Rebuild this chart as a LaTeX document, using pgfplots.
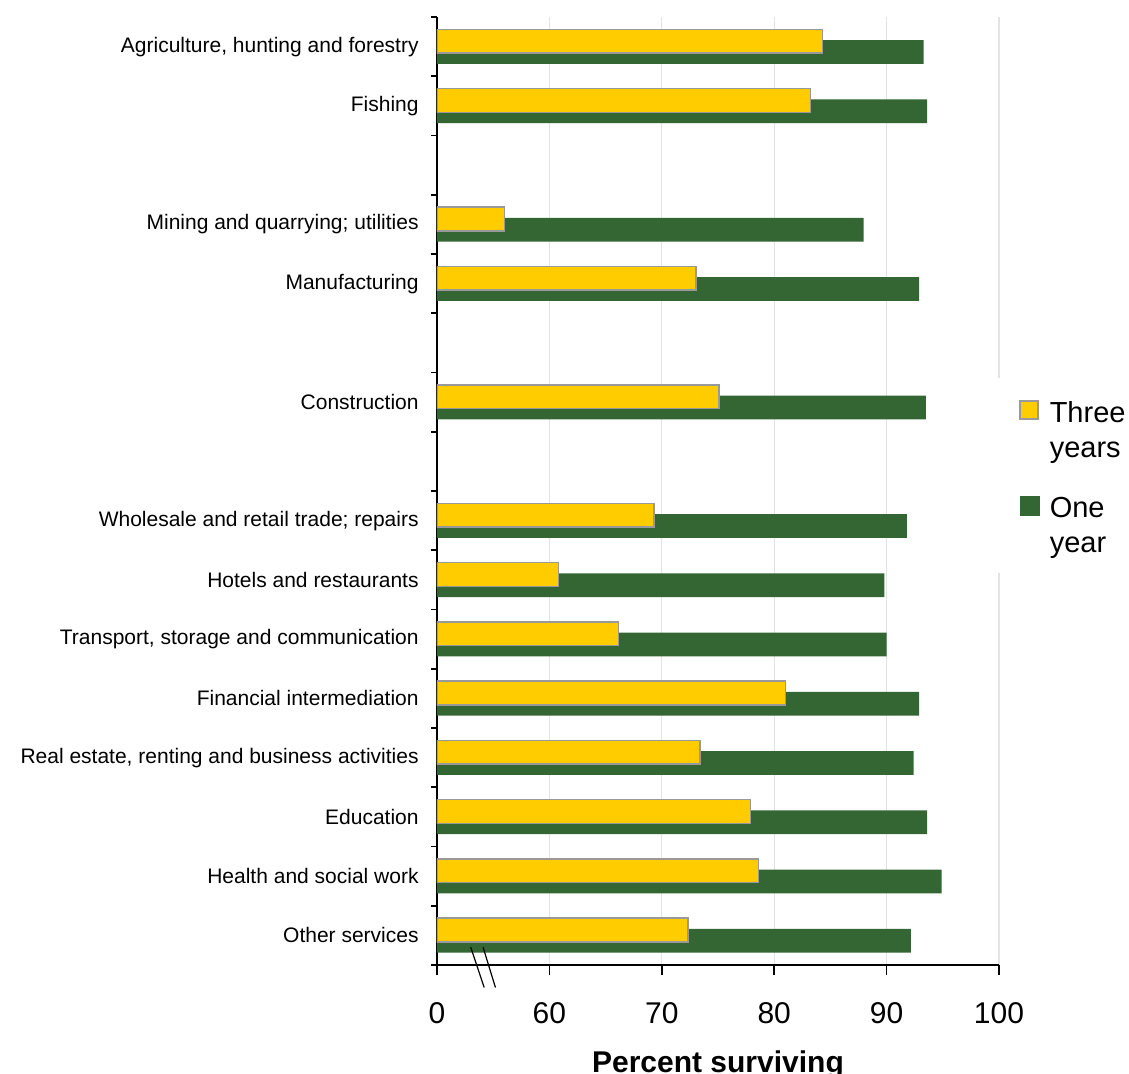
\documentclass[border=0pt]{standalone}
\usepackage{pgfplots}
\pgfplotsset{compat=1.18}
\usepackage{fontspec}
\setmainfont{Liberation Sans}

\definecolor{barYellow}{HTML}{FFCC00}
\definecolor{barGreen}{HTML}{336633}
\definecolor{barEdge}{HTML}{999999}
\definecolor{gridGray}{HTML}{E3E3E3}

\begin{document}
\begin{tikzpicture}
\begin{axis}[
  at={(0,0)}, anchor=south west,
  scale only axis, width=281pt, height=474pt,
  xbar, bar width=0.4,
  xmin=50, xmax=100, ymin=-0.5, ymax=15.5, y dir=reverse,
  clip mode=individual,
  axis x line*=bottom, axis y line*=left,
  axis line style={line width=0.8pt, -},
  tick align=outside,
  major tick length=5pt,
  xtick={50,60,70,80,90,100},
  xticklabels={0,60,70,80,90,100},
  xtick style={draw=black, line width=0.8pt},
  xticklabel style={font=\fontsize{15}{18}\selectfont, anchor=base, inner sep=0pt, yshift=-24pt},
  xmajorgrids, major grid style={gridGray, line width=0.6pt},
  ytick={0,1,3,4,6,8,9,10,11,12,13,14,15},
  yticklabels={
    {Agriculture, hunting and forestry},
    {Fishing},
    {Mining and quarrying; utilities},
    {Manufacturing},
    {Construction},
    {Wholesale and retail trade; repairs},
    {Hotels and restaurants},
    {Transport, storage and communication},
    {Financial intermediation},
    {Real estate, renting and business activities},
    {Education},
    {Health and social work},
    {Other services}},
  ytick style={draw=none},
  yticklabel style={font=\fontsize{10.5}{12}\selectfont, anchor=east, inner sep=0pt, xshift=-4pt},
  extra y ticks={-0.5,0.5,...,15.5},
  extra y tick labels={},
  extra y tick style={major tick length=3pt, ytick style={draw=black, line width=0.8pt}},
  xlabel={Percent surviving},
  xlabel style={at={(0.5,0)}, anchor=base, yshift=-53.5pt,
                font=\bfseries\fontsize{15}{18}\selectfont},
  reverse legend,
  legend style={at={(1.0356,0.5986)}, anchor=north west, draw=none, fill=none,
                inner sep=0pt, outer sep=0pt, row sep=34pt, column sep=5pt,
                font=\fontsize{14.5}{17.5}\selectfont,
                nodes={inner sep=0pt, anchor=base west}},
]
% one-year survival (drawn first, sits below)
\addplot[fill=barGreen, draw=none, bar shift=0.09,
  legend image code/.code={\fill[barGreen] (0pt,1pt) rectangle (10pt,11pt);}]
  coordinates {(93.3,0) (93.6,1) (87.95,3) (92.9,4) (93.5,6) (91.8,8) (89.8,9)
               (90.0,10) (92.9,11) (92.4,12) (93.6,13) (94.9,14) (92.15,15)};
\addlegendentry{\begin{tabular}[t]{@{}l@{}}One\\year\end{tabular}}
% three-year survival (drawn on top)
\addplot[fill=barYellow, draw=barEdge, line width=0.75pt, bar shift=-0.09,
  legend image code/.code={\draw[fill=barYellow, draw=barEdge, line width=0.75pt] (0pt,1.5pt) rectangle (9pt,10.5pt);}]
  coordinates {(84.3,0) (83.25,1) (56.0,3) (73.05,4) (75.1,6) (69.3,8) (60.8,9)
               (66.15,10) (81.0,11) (73.4,12) (77.9,13) (78.6,14) (72.35,15)};
\addlegendentry{\begin{tabular}[t]{@{}l@{}}Three\\years\end{tabular}}
% axis break marks
\draw[line width=0.6pt] (axis cs:53.0,15.20) -- (axis cs:54.2,15.88);
\draw[line width=0.6pt] (axis cs:54.1,15.20) -- (axis cs:55.2,15.88);
\end{axis}
% white backing of the legend interrupts the 100 gridline
\fill[white] (279pt,196pt) rectangle (287.5pt,293.5pt);
\pgfresetboundingbox
\path[use as bounding box] (-218.5pt,-54pt) rectangle (346pt,482.5pt);
\end{tikzpicture}
\end{document}
